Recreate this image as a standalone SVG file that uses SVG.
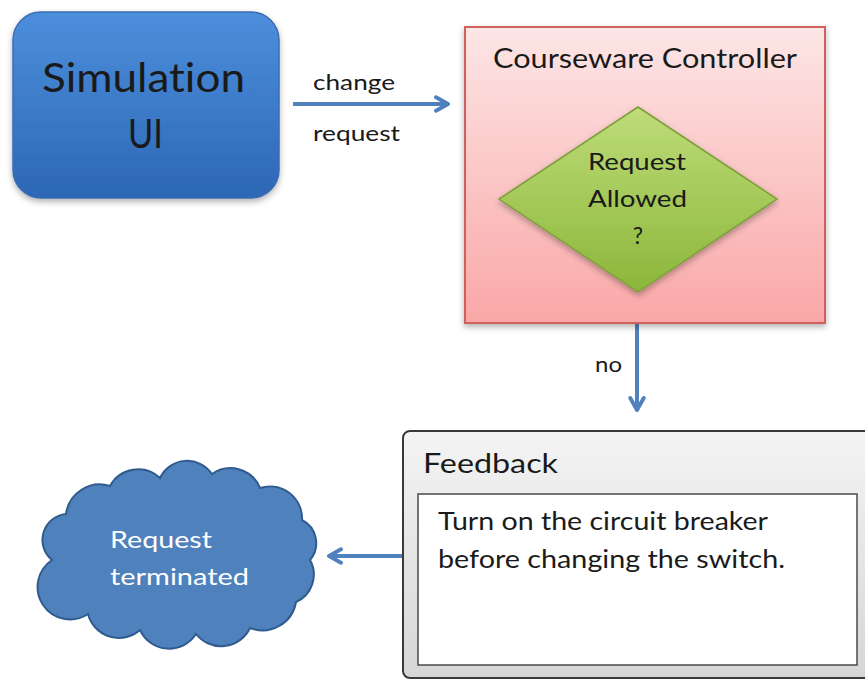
<svg xmlns="http://www.w3.org/2000/svg" width="865" height="679" viewBox="0 0 865 679">
<defs>
<linearGradient id="gBlue" x1="0" y1="0" x2="0" y2="1"><stop offset="0" stop-color="#4d8fdc"/><stop offset="1" stop-color="#2c67b5"/></linearGradient>
<linearGradient id="gPink" x1="0" y1="0" x2="0" y2="1"><stop offset="0" stop-color="#fde6e6"/><stop offset="1" stop-color="#faa7a7"/></linearGradient>
<linearGradient id="gGreen" x1="0" y1="0" x2="0" y2="1"><stop offset="0" stop-color="#bedc78"/><stop offset="1" stop-color="#8bb63a"/></linearGradient>
<linearGradient id="gGray" x1="0" y1="0" x2="0" y2="1"><stop offset="0" stop-color="#f4f4f4"/><stop offset="1" stop-color="#d6d6d6"/></linearGradient>
<filter id="sh" x="-10%" y="-10%" width="120%" height="125%"><feDropShadow dx="0" dy="3" stdDeviation="3" flood-color="#000" flood-opacity="0.3"/></filter>
<marker id="arr" viewBox="0 0 12 12" refX="10" refY="6" markerWidth="4.5" markerHeight="4.5" orient="auto" markerUnits="strokeWidth"><polyline points="2,1.5 10,6 2,10.5" fill="none" stroke="#4f81bd" stroke-width="2.6" stroke-linecap="round" stroke-linejoin="round"/></marker>
</defs>
<style>
text{font-variant-ligatures:none;font-feature-settings:"liga" 0,"clig" 0}
.t{font-family:Lato,"Liberation Sans",sans-serif;fill:#1a1a1a}
.w{font-family:Lato,"Liberation Sans",sans-serif;fill:#ffffff}
.c{stroke:#4f81bd;stroke-width:4;fill:none;marker-end:url(#arr)}
</style>
<rect width="865" height="679" fill="#ffffff"/>
<g id="connectors">
<line class="c" x1="293" y1="104" x2="448" y2="104"/>
<line class="c" x1="637" y1="307" x2="637" y2="410"/>
<line class="c" x1="404" y1="556" x2="329" y2="556"/>
<text class="t" x="313" y="90" font-size="22" textLength="82" lengthAdjust="spacingAndGlyphs">change</text>
<text class="t" x="313" y="141" font-size="22" textLength="87" lengthAdjust="spacingAndGlyphs">request</text>
<text class="t" x="595" y="372" font-size="22" textLength="27" lengthAdjust="spacingAndGlyphs">no</text>
</g>
<g id="simulation-ui">
<rect x="13" y="12" width="266" height="186" rx="28" fill="url(#gBlue)" stroke="#3a6db0" stroke-width="1.5" filter="url(#sh)"/>
<text class="t" x="42" y="92" font-size="41" textLength="203" lengthAdjust="spacingAndGlyphs">Simulation</text>
<text class="t" x="128" y="148" font-size="41" textLength="35" lengthAdjust="spacingAndGlyphs">UI</text>
</g>
<g id="courseware-controller">
<rect x="465" y="27" width="360" height="296" fill="url(#gPink)" stroke="#d0605c" stroke-width="2" filter="url(#sh)"/>
<text class="t" x="493" y="68" font-size="27" textLength="304" lengthAdjust="spacingAndGlyphs">Courseware Controller</text>
</g>
<g id="request-allowed">
<polygon points="638,107 777,199 638,292 499,199" fill="url(#gGreen)" stroke="#7f9f3c" stroke-width="1.5" filter="url(#sh)"/>
<text class="t" x="588" y="170" font-size="23" textLength="98" lengthAdjust="spacingAndGlyphs">Request</text>
<text class="t" x="588" y="207" font-size="23" textLength="99" lengthAdjust="spacingAndGlyphs">Allowed</text>
<text class="t" x="638" y="244" font-size="23" text-anchor="middle">?</text>
</g>
<g id="feedback">
<rect x="403" y="431" width="475" height="247" rx="7" fill="url(#gGray)" stroke="#3a3a3a" stroke-width="2"/>
<text class="t" x="423" y="473" font-size="27" textLength="135" lengthAdjust="spacingAndGlyphs">Feedback</text>
<rect x="418" y="494" width="439" height="171" fill="#ffffff" stroke="#4a4a4a" stroke-width="1.5"/>
<text class="t" x="438" y="530" font-size="25" textLength="330" lengthAdjust="spacingAndGlyphs">Turn on the circuit breaker</text>
<text class="t" x="438" y="568" font-size="25" textLength="347" lengthAdjust="spacingAndGlyphs">before changing the switch.</text>
</g>
<g id="request-terminated">
<path d="M52,560 A26,26 0 0 1 66,514 A34,34 0 0 1 110,486 A32,32 0 0 1 160,478 A30,30 0 0 1 212,474 A32,32 0 0 1 260,488 A32,32 0 0 1 302,520 A26,26 0 0 1 310,560 A30,30 0 0 1 296,602 A34,34 0 0 1 250,628 A32,32 0 0 1 196,634 A32,32 0 0 1 140,630 A32,32 0 0 1 88,614 A28,28 0 0 1 52,560 Z" fill="#4f81bd" stroke="#2f5b8e" stroke-width="2"/>
<text class="w" x="110" y="548" font-size="24" textLength="102" lengthAdjust="spacingAndGlyphs">Request</text>
<text class="w" x="110" y="585" font-size="24" textLength="139" lengthAdjust="spacingAndGlyphs">terminated</text>
</g>
</svg>
